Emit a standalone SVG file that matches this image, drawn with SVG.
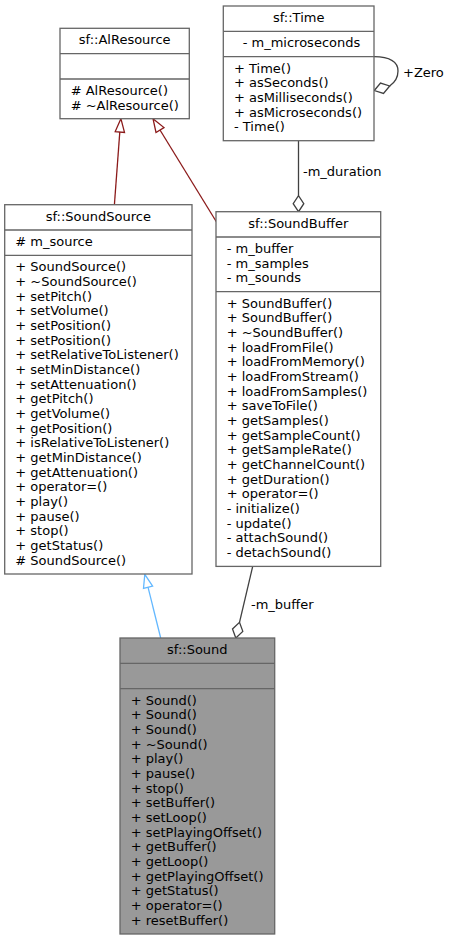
<svg xmlns="http://www.w3.org/2000/svg" width="449" height="940" viewBox="0 0 449 940">
  <style>
    text { font-family: "DejaVu Sans", "Liberation Sans", sans-serif; font-size: 13px; fill: #000000; }
    .title { text-anchor: middle; }
    .box { fill: #ffffff; stroke: #666666; stroke-width: 1.3; }
    .focus { fill: #999999; stroke: #666666; stroke-width: 1.3; }
    .sep { stroke: #666666; stroke-width: 1.3; fill: none; }
    .priv { stroke: #8b1a1a; stroke-width: 1.3; fill: none; }
    .privhead { stroke: #8b1a1a; stroke-width: 1.3; fill: #ffffff; }
    .pub { stroke: #63b8ff; stroke-width: 1.3; fill: none; }
    .pubhead { stroke: #63b8ff; stroke-width: 1.3; fill: #ffffff; }
    .use { stroke: #404040; stroke-width: 1.3; fill: none; }
    .usehead { stroke: #404040; stroke-width: 1.3; fill: #ffffff; }
  </style>

  <!-- connectors -->
  <g id="edges">
    <!-- SoundSource -> AlResource (private inheritance) -->
    <path class="priv" d="M114.4,204.7 L119.8,132"/>
    <polygon class="privhead" points="120.9,118.7 124.5,132.4 115.2,131.6"/>
    <!-- SoundBuffer -> AlResource (private inheritance) -->
    <path class="priv" d="M216.5,222 L160,130"/>
    <polygon class="privhead" points="153,118.7 164,127.6 156,132.5"/>
    <!-- Sound -> SoundSource (public inheritance) -->
    <path class="pub" d="M160.7,638 L148,587.2"/>
    <polygon class="pubhead" points="144.8,574.3 152.6,586.1 143.5,588.3"/>
    <!-- Time -> SoundBuffer : -m_duration -->
    <path class="use" d="M298.5,140.7 L298.5,195.7"/>
    <polygon class="usehead" points="298.5,211.7 293.2,203.7 298.5,195.7 303.8,203.7"/>
    <text x="303" y="176">-m_duration</text>
    <!-- SoundBuffer -> Sound : -m_buffer -->
    <path class="use" d="M252.7,566.3 L239.5,622.4"/>
    <polygon class="usehead" points="235.8,638 232.5,629 239.5,622.4 242.8,631.4"/>
    <text x="251" y="608.6">-m_buffer</text>
    <!-- Time -> Time : +Zero -->
    <path class="use" d="M374,56.7 C390,57 398,62 398,71 C398,78 394,83 389.7,86"/>
    <polygon class="usehead" points="374.3,90.5 380.5,83.1 389.7,86 383.5,93.4"/>
    <text x="403" y="77">+Zero</text>
  </g>

  <!-- sf::AlResource -->
  <g id="AlResource">
    <rect class="box" x="60" y="28.3" width="129.3" height="90.4"/>
    <path class="sep" d="M60,53.7 H189.3 M60,79 H189.3"/>
    <text class="title" x="124.7" y="44.3">sf::AlResource</text>
    <text x="70.7" y="95"># AlResource()</text>
    <text x="70.7" y="109.7"># ~AlResource()</text>
  </g>

  <!-- sf::Time -->
  <g id="Time">
    <rect class="box" x="223.3" y="6" width="150.7" height="134.7"/>
    <path class="sep" d="M223.3,31.3 H374 M223.3,56.7 H374"/>
    <text class="title" x="298.7" y="22">sf::Time</text>
    <text x="242.7" y="47.3">- m_microseconds</text>
    <text x="234" y="72.7">+ Time()</text>
    <text x="234" y="87.3">+ asSeconds()</text>
    <text x="234" y="102">+ asMilliseconds()</text>
    <text x="234" y="116.7">+ asMicroseconds()</text>
    <text x="234" y="131.3">- Time()</text>
  </g>

  <!-- sf::SoundSource -->
  <g id="SoundSource">
    <rect class="box" x="4.7" y="204.7" width="187.3" height="369.3"/>
    <path class="sep" d="M4.7,230 H192 M4.7,255.3 H192"/>
    <text class="title" x="98.3" y="220.7">sf::SoundSource</text>
    <text x="15.3" y="246"># m_source</text>
    <text x="15.3" y="271.3">+ SoundSource()</text>
    <text x="15.3" y="286">+ ~SoundSource()</text>
    <text x="15.3" y="300.7">+ setPitch()</text>
    <text x="15.3" y="315.3">+ setVolume()</text>
    <text x="15.3" y="330">+ setPosition()</text>
    <text x="15.3" y="344.7">+ setPosition()</text>
    <text x="15.3" y="359.3">+ setRelativeToListener()</text>
    <text x="15.3" y="374">+ setMinDistance()</text>
    <text x="15.3" y="388.7">+ setAttenuation()</text>
    <text x="15.3" y="403.3">+ getPitch()</text>
    <text x="15.3" y="418">+ getVolume()</text>
    <text x="15.3" y="432.7">+ getPosition()</text>
    <text x="15.3" y="447.3">+ isRelativeToListener()</text>
    <text x="15.3" y="462">+ getMinDistance()</text>
    <text x="15.3" y="476.7">+ getAttenuation()</text>
    <text x="15.3" y="491.3">+ operator=()</text>
    <text x="15.3" y="506">+ play()</text>
    <text x="15.3" y="520.7">+ pause()</text>
    <text x="15.3" y="535.3">+ stop()</text>
    <text x="15.3" y="550">+ getStatus()</text>
    <text x="15.3" y="564.7"># SoundSource()</text>
  </g>

  <!-- sf::SoundBuffer -->
  <g id="SoundBuffer">
    <rect class="box" x="216" y="211.7" width="164.7" height="354.7"/>
    <path class="sep" d="M216,237 H380.7 M216,291.7 H380.7"/>
    <text class="title" x="298.3" y="227.7">sf::SoundBuffer</text>
    <text x="226.7" y="253">- m_buffer</text>
    <text x="226.7" y="267.7">- m_samples</text>
    <text x="226.7" y="282.3">- m_sounds</text>
    <text x="226.7" y="307.7">+ SoundBuffer()</text>
    <text x="226.7" y="322.3">+ SoundBuffer()</text>
    <text x="226.7" y="337">+ ~SoundBuffer()</text>
    <text x="226.7" y="351.7">+ loadFromFile()</text>
    <text x="226.7" y="366.3">+ loadFromMemory()</text>
    <text x="226.7" y="381">+ loadFromStream()</text>
    <text x="226.7" y="395.7">+ loadFromSamples()</text>
    <text x="226.7" y="410.3">+ saveToFile()</text>
    <text x="226.7" y="425">+ getSamples()</text>
    <text x="226.7" y="439.7">+ getSampleCount()</text>
    <text x="226.7" y="454.3">+ getSampleRate()</text>
    <text x="226.7" y="469">+ getChannelCount()</text>
    <text x="226.7" y="483.7">+ getDuration()</text>
    <text x="226.7" y="498.3">+ operator=()</text>
    <text x="226.7" y="513">- initialize()</text>
    <text x="226.7" y="527.7">- update()</text>
    <text x="226.7" y="542.3">- attachSound()</text>
    <text x="226.7" y="557">- detachSound()</text>
  </g>

  <!-- sf::Sound -->
  <g id="Sound">
    <rect class="focus" x="120" y="638" width="154.7" height="296"/>
    <path class="sep" d="M120,663.3 H274.7 M120,688.7 H274.7"/>
    <text class="title" x="197.3" y="654">sf::Sound</text>
    <text x="130.7" y="704.7">+ Sound()</text>
    <text x="130.7" y="719.3">+ Sound()</text>
    <text x="130.7" y="734">+ Sound()</text>
    <text x="130.7" y="748.7">+ ~Sound()</text>
    <text x="130.7" y="763.3">+ play()</text>
    <text x="130.7" y="778">+ pause()</text>
    <text x="130.7" y="792.7">+ stop()</text>
    <text x="130.7" y="807.3">+ setBuffer()</text>
    <text x="130.7" y="822">+ setLoop()</text>
    <text x="130.7" y="836.7">+ setPlayingOffset()</text>
    <text x="130.7" y="851.3">+ getBuffer()</text>
    <text x="130.7" y="866">+ getLoop()</text>
    <text x="130.7" y="880.7">+ getPlayingOffset()</text>
    <text x="130.7" y="895.3">+ getStatus()</text>
    <text x="130.7" y="910">+ operator=()</text>
    <text x="130.7" y="924.7">+ resetBuffer()</text>
  </g>
</svg>
